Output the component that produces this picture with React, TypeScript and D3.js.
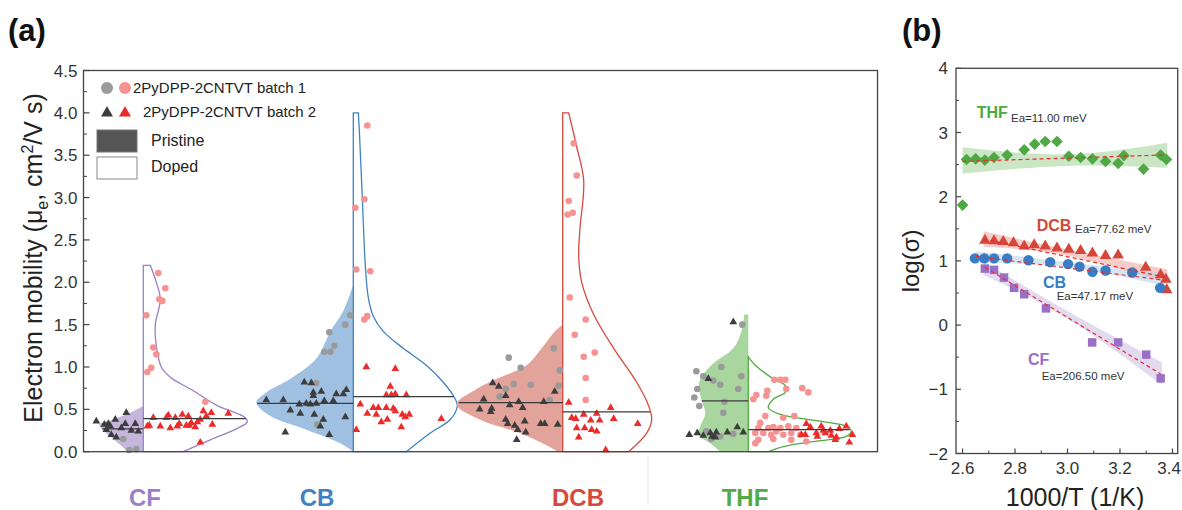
import * as d3 from "d3";

const W = 1182;
const H = 510;
const FONT = "Arial, 'Liberation Sans', Helvetica, sans-serif";

// ---------- panel (a) data ----------
const categories = ["CF", "CB", "DCB", "THF"];
const catColors = ["#9b7fc6", "#3f82c4", "#d5493e", "#52aa45"];
const catFills = ["#c6b6de", "#a0c0e2", "#e2a39a", "#a9d59f"];
const yTicksA = [0, 0.5, 1, 1.5, 2, 2.5, 3, 3.5, 4, 4.5];

// violin half profiles: [mobility, relative density]
const cfPristineProfile = [[0, 0.16], [0.05, 0.2], [0.15, 0.3], [0.25, 0.4], [0.32, 0.44], [0.38, 0.3], [0.45, 0.15], [0.54, 0]];
const cfDopedProfile = [[0, 0.4], [0.14, 0.67], [0.27, 0.93], [0.35, 1.04], [0.4, 1.02], [0.55, 0.73], [0.72, 0.5], [0.88, 0.27], [1.0, 0.18], [1.25, 0.13], [1.5, 0.12], [1.8, 0.17], [2.0, 0.13], [2.2, 0.07]];
const cbPristineProfile = [[0, 0], [0.1, 0.13], [0.26, 0.47], [0.42, 0.83], [0.58, 0.97], [0.7, 0.87], [0.86, 0.63], [1.1, 0.37], [1.42, 0.23], [1.66, 0.1], [1.97, 0]];
const cbDopedProfile = [[0, 0.53], [0.22, 0.77], [0.38, 0.97], [0.54, 1.04], [0.62, 1.02], [0.82, 0.9], [1.02, 0.73], [1.22, 0.5], [1.42, 0.3], [1.6, 0.2], [1.82, 0.15], [2.2, 0.12], [3.0, 0.09], [3.8, 0.06], [4.0, 0.05]];
const dcbPristineProfile = [[0, 0.05], [0.05, 0.12], [0.22, 0.43], [0.38, 0.83], [0.56, 1.06], [0.74, 0.86], [0.86, 0.66], [1.02, 0.36], [1.22, 0.21], [1.42, 0.08], [1.5, 0]];
const dcbDopedProfile = [[0, 0.66], [0.22, 0.84], [0.38, 0.89], [0.54, 0.86], [0.82, 0.74], [1.22, 0.51], [1.62, 0.31], [2.0, 0.19], [2.3, 0.16], [2.6, 0.17], [3.2, 0.21], [3.6, 0.14], [4.0, 0.06]];
const thfPristineProfile = [[0, 0.28], [0.1, 0.38], [0.2, 0.5], [0.3, 0.48], [0.46, 0.43], [0.62, 0.47], [0.82, 0.49], [1.02, 0.37], [1.22, 0.15], [1.42, 0.07], [1.62, 0.04]];
const thfDopedProfile = [[0, 0.2], [0.06, 0.35], [0.12, 0.65], [0.18, 0.98], [0.24, 1.03], [0.3, 0.98], [0.36, 0.72], [0.44, 0.32], [0.52, 0.2], [0.62, 0.25], [0.7, 0.37], [0.78, 0.37], [0.86, 0.25], [1.02, 0.07], [1.12, 0]];

const pristineMedians = [0.27, 0.57, 0.58, 0.6];
const dopedMedians = [0.39, 0.65, 0.47, 0.26];

// scatter points: [jitter (density units, signed), mobility]
const cfPristineTri = [[-0.47, 0.36], [-0.35, 0.33], [-0.28, 0.38], [-0.33, 0.3], [-0.37, 0.26], [-0.32, 0.2], [-0.27, 0.17], [-0.17, 0.46], [-0.18, 0.33], [-0.12, 0.25], [-0.08, 0.33], [-0.05, 0.24], [-0.22, 0.28], [-0.39, 0.32]];
const cfPristineCirc = [[-0.2, 0.15], [-0.14, 0.02], [-0.07, 0.03]];
const cfDopedCirc = [[0.15, 2.11], [0.22, 1.93], [0.16, 1.8], [0.19, 1.78], [0.03, 1.61], [0.1, 1.23], [0.13, 1.15], [0.08, 0.99], [0.04, 0.94], [0.62, 0.59]];
const cfDopedTri = [[0.06, 0.31], [0.1, 0.4], [0.17, 0.3], [0.25, 0.43], [0.27, 0.28], [0.32, 0.4], [0.34, 0.3], [0.39, 0.44], [0.43, 0.31], [0.45, 0.42], [0.48, 0.34], [0.52, 0.29], [0.54, 0.35], [0.57, 0.38], [0.6, 0.48], [0.63, 0.42], [0.68, 0.46], [0.69, 0.32], [0.85, 0.45], [0.57, 0.11], [0.04, 0.3], [0.23, 0.4], [0.46, 0.31], [0.36, 0.33]];

const cbPristineTri = [[-0.87, 0.61], [-0.7, 0.61], [-0.63, 0.49], [-0.54, 0.56], [-0.53, 0.45], [-0.49, 0.82], [-0.42, 0.81], [-0.4, 0.7], [-0.4, 0.66], [-0.32, 0.71], [-0.47, 0.57], [-0.43, 0.56], [-0.37, 0.57], [-0.39, 0.44], [-0.3, 0.38], [-0.33, 0.3], [-0.29, 0.6], [-0.2, 0.6], [-0.17, 0.68], [-0.1, 0.68], [-0.07, 0.73], [-0.08, 0.41], [-0.24, 0.2], [-0.68, 0.23]];
const cbPristineCirc = [[-0.03, 1.61], [-0.08, 1.5], [-0.24, 1.41], [-0.19, 1.25], [-0.23, 1.18], [-0.29, 1.18], [-0.37, 0.81], [-0.36, 0.32]];
const cbDopedCirc = [[0.14, 3.85], [0.11, 2.98], [0.02, 2.88], [0.03, 2.15], [0.17, 2.13], [0.14, 1.6], [0.11, 1.56]];
const cbDopedTri = [[0.13, 1.0], [0.42, 0.98], [0.37, 0.77], [0.33, 0.67], [0.38, 0.67], [0.42, 0.68], [0.53, 0.67], [0.07, 0.56], [0.2, 0.52], [0.25, 0.52], [0.33, 0.52], [0.4, 0.51], [0.42, 0.48], [0.14, 0.45], [0.23, 0.44], [0.34, 0.38], [0.49, 0.44], [0.56, 0.44], [0.28, 0.35], [0.48, 0.29], [0.88, 0.39], [0.03, 0.26], [0.52, 0.41]];

const dcbPristineTri = [[-0.83, 0.5], [-0.79, 0.62], [-0.71, 0.51], [-0.72, 0.47], [-0.7, 0.81], [-0.64, 0.77], [-0.57, 0.66], [-0.53, 0.55], [-0.44, 0.59], [-0.4, 0.52], [-0.57, 0.38], [-0.55, 0.33], [-0.48, 0.31], [-0.45, 0.26], [-0.38, 0.36], [-0.37, 0.23], [-0.46, 0.14], [-0.22, 0.33], [-0.18, 0.33], [-0.19, 0.59], [-0.08, 0.71], [-0.05, 0.32]];
const dcbPristineCirc = [[-0.54, 1.11], [-0.42, 0.99], [-0.09, 1.22], [-0.03, 0.96], [-0.04, 0.78], [-0.49, 0.8], [-0.57, 0.74], [-0.32, 0.79], [-0.63, 0.65], [-0.13, 0.61]];
const dcbDopedCirc = [[0.11, 3.64], [0.14, 3.26], [0.06, 2.96], [0.05, 2.8], [0.1, 2.82], [0.07, 1.82], [0.23, 1.56], [0.12, 1.38], [0.21, 1.12], [0.32, 1.17], [0.23, 0.87], [0.23, 0.61]];
const dcbDopedTri = [[0.06, 0.58], [0.48, 0.52], [0.21, 0.44], [0.34, 0.45], [0.09, 0.4], [0.13, 0.39], [0.28, 0.37], [0.37, 0.37], [0.51, 0.39], [0.14, 0.28], [0.22, 0.28], [0.29, 0.26], [0.34, 0.24], [0.16, 0.17], [0.75, 0.33], [0.43, 0.02]];

const thfPristineTri = [[-0.15, 1.53], [-0.4, 0.86], [-0.59, 0.2], [-0.51, 0.22], [-0.45, 0.19], [-0.38, 0.22], [-0.36, 0.18], [-0.32, 0.23], [-0.33, 0.17], [-0.21, 0.23], [-0.11, 0.29], [-0.05, 0.23]];
const thfPristineCirc = [[-0.06, 1.5], [-0.52, 0.95], [-0.45, 0.89], [-0.27, 1.0], [-0.07, 0.89], [-0.35, 0.84], [-0.28, 0.79], [-0.51, 0.74], [-0.1, 0.74], [-0.54, 0.64], [-0.49, 0.54], [-0.24, 0.59], [-0.25, 0.46], [-0.37, 0.15], [-0.28, 0.18], [-0.15, 0.21], [-0.42, 0.24]];
const thfDopedCirc = [[0.26, 0.85], [0.32, 0.85], [0.37, 0.85], [0.19, 0.72], [0.38, 0.74], [0.54, 0.75], [0.6, 0.7], [0.08, 0.67], [0.18, 0.66], [0.05, 0.62], [0.17, 0.42], [0.35, 0.4], [0.46, 0.42], [0.12, 0.34], [0.1, 0.28], [0.2, 0.28], [0.25, 0.29], [0.32, 0.28], [0.4, 0.3], [0.48, 0.28], [0.07, 0.22], [0.15, 0.22], [0.23, 0.2], [0.28, 0.24], [0.35, 0.2], [0.43, 0.22], [0.52, 0.2], [0.1, 0.14], [0.07, 0.1], [0.25, 0.15], [0.43, 0.14], [0.58, 0.12]];
const thfDopedTri = [[0.58, 0.33], [0.62, 0.29], [0.53, 0.2], [0.57, 0.2], [0.68, 0.22], [0.69, 0.18], [0.73, 0.3], [0.75, 0.25], [0.77, 0.22], [0.82, 0.25], [0.83, 0.19], [0.88, 0.17], [0.91, 0.27], [0.98, 0.3], [1.04, 0.2], [1.01, 0.11], [0.87, 0.14]];

const pristineProfiles = [cfPristineProfile, cbPristineProfile, dcbPristineProfile, thfPristineProfile];
const dopedProfiles = [cfDopedProfile, cbDopedProfile, dcbDopedProfile, thfDopedProfile];
const pristineTris = [cfPristineTri, cbPristineTri, dcbPristineTri, thfPristineTri];
const pristineCircs = [cfPristineCirc, cbPristineCirc, dcbPristineCirc, thfPristineCirc];
const dopedCircs = [cfDopedCirc, cbDopedCirc, dcbDopedCirc, thfDopedCirc];
const dopedTris = [cfDopedTri, cbDopedTri, dcbDopedTri, thfDopedTri];

// ---------- panel (b) data ----------
const xTicksB = [2.6, 2.8, 3.0, 3.2, 3.4];
const yTicksB = [-2, -1, 0, 1, 2, 3, 4];

const thfPoints = [[2.6, 1.87], [2.615, 2.58], [2.65, 2.59], [2.685, 2.57], [2.72, 2.61], [2.77, 2.65], [2.835, 2.73], [2.875, 2.82], [2.915, 2.86], [2.96, 2.86], [3.005, 2.63], [3.05, 2.61], [3.095, 2.59], [3.145, 2.55], [3.193, 2.52], [3.215, 2.64], [3.29, 2.43], [3.355, 2.65], [3.377, 2.58]];
const dcbPoints = [[2.685, 1.32], [2.72, 1.31], [2.755, 1.3], [2.794, 1.28], [2.835, 1.23], [2.873, 1.25], [2.915, 1.23], [2.96, 1.2], [3.005, 1.18], [3.05, 1.16], [3.095, 1.12], [3.145, 1.08], [3.193, 1.09], [3.298, 0.9], [3.355, 0.78], [3.375, 0.71], [3.378, 0.55]];
const cbPoints = [[2.647, 1.04], [2.683, 1.04], [2.72, 1.04], [2.77, 1.04], [2.851, 1.01], [2.934, 0.98], [3.002, 0.95], [3.046, 0.91], [3.095, 0.83], [3.145, 0.85], [3.247, 0.82], [3.353, 0.58]];
const cfPoints = [[2.685, 0.88], [2.72, 0.86], [2.758, 0.74], [2.796, 0.58], [2.835, 0.48], [2.918, 0.26], [3.094, -0.27], [3.193, -0.27], [3.3, -0.46], [3.355, -0.83]];

const thfFit = [[2.6, 2.55], [3.37, 2.65]];
const dcbFit = [[2.68, 1.34], [3.38, 0.74]];
const cbFit = [[2.65, 1.07], [3.37, 0.7]];
const cfFit = [[2.685, 0.9], [3.355, -0.76]];

// confidence bands: [x, low, high]
const thfBand = [[2.6, 2.36, 2.77], [3.0, 2.48, 2.66], [3.38, 2.45, 2.84]];
const dcbBand = [[2.68, 1.22, 1.46], [3.0, 1.08, 1.18], [3.38, 0.65, 0.87]];
const cbBand = [[2.65, 0.97, 1.15], [3.0, 0.9, 0.98], [3.37, 0.61, 0.8]];
const cfBand = [[2.68, 0.78, 0.99], [3.0, 0.1, 0.22], [3.36, -0.93, -0.58]];

const seriesB = ["THF", "DCB", "CB", "CF"];
const seriesBColors = ["#4ea843", "#d6473b", "#3a7dc4", "#9a70c6"];
const seriesBBands = ["#9fd196", "#eba39b", "#b6cfe9", "#cdbbe4"];
const eaLabels = ["Ea=11.00 meV", "Ea=77.62 meV", "Ea=47.17 meV", "Ea=206.50 meV"];

// ---------- scales ----------
const A = { left: 83.5, right: 877.5, top: 70.5, bottom: 451.7 };
const B = { left: 956, right: 1177.7, top: 68.3, bottom: 453.5 };

const yA = d3.scaleLinear().domain([0, 4.5]).range([A.bottom, A.top]);
const xCat = d3.scaleOrdinal<string, number>().domain(categories).range([143.3, 353.3, 562.7, 748.3]);
const xCatLabel = d3.scaleOrdinal<string, number>().domain(categories).range([145, 317, 578, 745]);
const wScale = d3.scaleLinear().domain([0, 1]).range([0, 100]);

const xB = d3.scaleLinear().domain([2.575, 3.42]).range([B.left, B.right]);
const yB = d3.scaleLinear().domain([-2, 4]).range([B.bottom, B.top]);

const triPath = (area: number) => d3.symbol(d3.symbolTriangle, area)() as string;
const squarePath = (area: number) => d3.symbol(d3.symbolSquare, area)() as string;

const halfViolin = (profile: number[][], cx: number, side: number) =>
  d3
    .area<number[]>()
    .y((d) => yA(d[0]))
    .x0(cx)
    .x1((d) => cx + side * wScale(d[1]))
    .curve(d3.curveCatmullRom.alpha(0.5))(profile) as string;

const widthAt = (profile: number[][], v: number) => {
  const vs = profile.map((d) => d[0]);
  const ws = profile.map((d) => d[1]);
  return d3.scaleLinear().domain(vs).range(ws).clamp(true)(v);
};

const PanelA = () => {
  const minorA = d3.range(0.25, 4.5, 0.5);
  return (
    <g fontFamily={FONT}>
      <text x={8} y={41} fontSize={31} fontWeight="bold" fill="#111">(a)</text>

      {/* violins */}
      {categories.map((c, i) => {
        const cx = xCat(c);
        return (
          <g key={c}>
            <path d={halfViolin(pristineProfiles[i], cx, -1)} fill={catFills[i]} stroke="none" />
            <path d={halfViolin(dopedProfiles[i], cx, 1)} fill="none" stroke={catColors[i]} strokeWidth={1.3} />
          </g>
        );
      })}

      {/* points */}
      {categories.map((c, i) => {
        const cx = xCat(c);
        return (
          <g key={"p" + c}>
            {pristineCircs[i].map((d, k) => (
              <circle key={"pc" + k} cx={cx + wScale(d[0])} cy={yA(d[1])} r={3.3} fill="#9a9a9a" />
            ))}
            {pristineTris[i].map((d, k) => (
              <path key={"pt" + k} d={triPath(26)} transform={`translate(${cx + wScale(d[0])},${yA(d[1])})`} fill="#3d3d3d" />
            ))}
            {dopedCircs[i].map((d, k) => (
              <circle key={"dc" + k} cx={cx + wScale(d[0])} cy={yA(d[1])} r={3.3} fill="#f79292" />
            ))}
            {dopedTris[i].map((d, k) => (
              <path key={"dt" + k} d={triPath(26)} transform={`translate(${cx + wScale(d[0])},${yA(d[1])})`} fill="#ec2b2b" />
            ))}
          </g>
        );
      })}

      {/* medians */}
      {categories.map((c, i) => {
        const cx = xCat(c);
        const mp = pristineMedians[i];
        const md = dopedMedians[i];
        return (
          <g key={"m" + c} stroke="#3a3a3a" strokeWidth={1.2}>
            <line x1={cx - wScale(widthAt(pristineProfiles[i], mp))} x2={cx} y1={yA(mp)} y2={yA(mp)} />
            <line x1={cx} x2={cx + wScale(widthAt(dopedProfiles[i], md))} y1={yA(md)} y2={yA(md)} />
          </g>
        );
      })}

      {/* frame + ticks */}
      <rect x={A.left} y={A.top} width={A.right - A.left} height={A.bottom - A.top} fill="none" stroke="#444" strokeWidth={1.3} />
      {yTicksA.map((t) => (
        <g key={t}>
          <line x1={A.left} x2={A.left + 6} y1={yA(t)} y2={yA(t)} stroke="#444" strokeWidth={1.2} />
          <text x={A.left - 6} y={yA(t)} dy="0.36em" textAnchor="end" fontSize={17} fill="#333">
            {t.toFixed(1)}
          </text>
        </g>
      ))}
      {minorA.map((t) => (
        <line key={"mn" + t} x1={A.left} x2={A.left + 3.5} y1={yA(t)} y2={yA(t)} stroke="#444" strokeWidth={1} />
      ))}
      <line x1={648} x2={648} y1={A.bottom + 4} y2={505} stroke="#e4e4e4" strokeWidth={1} />

      <text transform="translate(42,258) rotate(-90)" textAnchor="middle" fontSize={25} fill="#222">
        Electron mobility (μ<tspan fontSize={16} dy={6}>e</tspan>
        <tspan dy={-6}>, cm</tspan>
        <tspan fontSize={16} dy={-9}>2</tspan>
        <tspan dy={9}>/V s)</tspan>
      </text>

      {/* category labels */}
      {categories.map((c, i) => (
        <text key={"l" + c} x={xCatLabel(c)} y={506} textAnchor="middle" fontSize={24} fontWeight="bold" fill={catColors[i]}>
          {c}
        </text>
      ))}

      {/* legend */}
      <g fontSize={15} fill="#222">
        <circle cx={107} cy={88} r={6} fill="#9a9a9a" />
        <circle cx={125} cy={88} r={6} fill="#f79292" />
        <text x={133} y={93}>2PyDPP-2CNTVT batch 1</text>
        <path d={triPath(62)} transform="translate(107,113)" fill="#3d3d3d" />
        <path d={triPath(62)} transform="translate(125,113)" fill="#ec2b2b" />
        <text x={143} y={117}>2PyDPP-2CNTVT batch 2</text>
        <rect x={97} y={130} width={40} height={22} fill="#555" stroke="#777" />
        <text x={151} y={146} fontSize={16}>Pristine</text>
        <rect x={97} y={157} width={40} height={22} fill="#fff" stroke="#888" />
        <text x={151} y={172} fontSize={16}>Doped</text>
      </g>
    </g>
  );
};

const PanelB = () => {
  const pointSets = [thfPoints, dcbPoints, cbPoints, cfPoints];
  const fits = [thfFit, dcbFit, cbFit, cfFit];
  const bands = [thfBand, dcbBand, cbBand, cfBand];
  const band = d3
    .area<number[]>()
    .x((d) => xB(d[0]))
    .y0((d) => yB(d[1]))
    .y1((d) => yB(d[2]))
    .curve(d3.curveNatural);
  const line = d3
    .line<number[]>()
    .x((d) => xB(d[0]))
    .y((d) => yB(d[1]));
  const minorY = d3.range(-1.5, 4, 1);
  const minorX = [2.7, 2.9, 3.1, 3.3];
  const labelPos = [
    { x: 976.7, y: 118, ex: 1011, ey: 122 },
    { x: 1036.7, y: 231, ex: 1075, ey: 233 },
    { x: 1043, y: 288, ex: 1056.7, ey: 300 },
    { x: 1028, y: 365, ex: 1041.7, ey: 380 },
  ];

  const marker = (s: string, x: number, y: number, color: string, k: number) => {
    if (s === "THF")
      return <path key={k} d={squarePath(68)} transform={`translate(${x},${y}) rotate(45)`} fill={color} />;
    if (s === "DCB")
      return <path key={k} d={triPath(58)} transform={`translate(${x},${y})`} fill={color} />;
    if (s === "CB") return <circle key={k} cx={x} cy={y} r={5.2} fill={color} />;
    return <path key={k} d={squarePath(72)} transform={`translate(${x},${y})`} fill={color} />;
  };

  return (
    <g fontFamily={FONT}>
      <text x={902} y={41} fontSize={31} fontWeight="bold" fill="#111">(b)</text>

      {seriesB.map((s, i) => (
        <path key={"b" + s} d={band(bands[i]) as string} fill={seriesBBands[i]} opacity={0.55} />
      ))}
      {seriesB.map((s, i) => (
        <g key={"pts" + s}>{pointSets[i].map((d, k) => marker(s, xB(d[0]), yB(d[1]), seriesBColors[i], k))}</g>
      ))}
      {seriesB.map((s, i) => (
        <path key={"f" + s} d={line(fits[i]) as string} fill="none" stroke="#ee2a2a" strokeWidth={1.2} strokeDasharray="4 3" />
      ))}

      {seriesB.map((s, i) => (
        <g key={"lab" + s}>
          <text x={labelPos[i].x} y={labelPos[i].y} fontSize={16} fontWeight="bold" fill={seriesBColors[i]}>
            {s}
          </text>
          <text x={labelPos[i].ex} y={labelPos[i].ey} fontSize={11.5} fill="#333">
            {eaLabels[i]}
          </text>
        </g>
      ))}

      <rect x={B.left} y={B.top} width={B.right - B.left} height={B.bottom - B.top} fill="none" stroke="#444" strokeWidth={1.3} />
      {yTicksB.map((t) => (
        <g key={"yb" + t}>
          <line x1={B.left} x2={B.left + 5} y1={yB(t)} y2={yB(t)} stroke="#444" strokeWidth={1.2} />
          <text x={B.left - 8} y={yB(t)} dy="0.36em" textAnchor="end" fontSize={17} fill="#333">
            {t < 0 ? "−" + Math.abs(t) : t}
          </text>
        </g>
      ))}
      {minorY.map((t) => (
        <line key={"myb" + t} x1={B.left} x2={B.left + 3} y1={yB(t)} y2={yB(t)} stroke="#444" strokeWidth={1} />
      ))}
      {xTicksB.map((t, i) => {
        const last = i === xTicksB.length - 1;
        return (
          <g key={"xb" + t}>
            <line x1={xB(t)} x2={xB(t)} y1={B.bottom} y2={B.bottom - 5} stroke="#444" strokeWidth={1.2} />
            <text x={last ? W - 1 : xB(t)} y={B.bottom + 20} textAnchor={last ? "end" : "middle"} fontSize={17} fill="#333">
              {t.toFixed(1)}
            </text>
          </g>
        );
      })}
      {minorX.map((t) => (
        <line key={"mxb" + t} x1={xB(t)} x2={xB(t)} y1={B.bottom} y2={B.bottom - 3} stroke="#444" strokeWidth={1} />
      ))}

      <text transform={`translate(919,${(B.top + B.bottom) / 2}) rotate(-90)`} textAnchor="middle" fontSize={24} fill="#222">
        log(σ)
      </text>
      <text x={1075} y={506} textAnchor="middle" fontSize={25} fill="#222">
        1000/T (1/K)
      </text>
    </g>
  );
};

export default function App() {
  return (
    <svg width={W} height={H} style={{ position: "absolute", left: 0, top: 0, background: "#fff" }}>
      <rect width={W} height={H} fill="#fff" />
      <PanelA />
      <PanelB />
    </svg>
  );
}
